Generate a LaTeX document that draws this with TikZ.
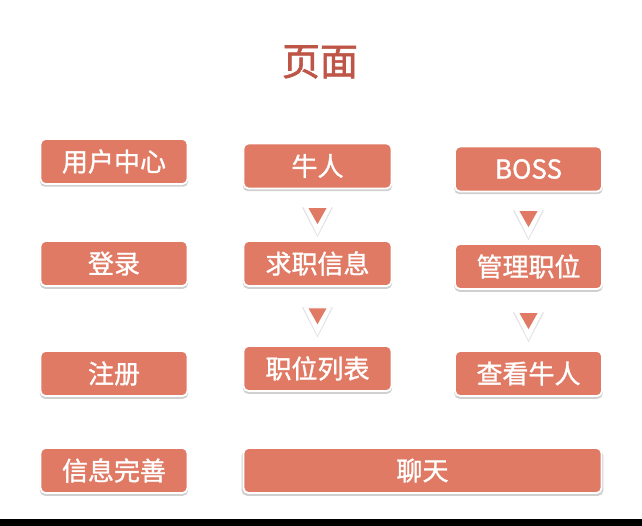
\documentclass[tikz,border=0pt]{standalone}
\usepackage{fontspec}
\newfontfamily\cjk{Noto Sans CJK SC}[FakeBold=1.2]
\newfontfamily\cjkt{Noto Sans CJK SC}[FakeBold=1.6]
\usetikzlibrary{shadows,calc}
\definecolor{boxred}{RGB}{224,122,100}
\definecolor{titlered}{RGB}{190,86,72}
\tikzset{
  pbox/.style={draw=white, line width=1.8pt, fill=boxred, rounded corners=5pt,
    minimum height=45pt, inner sep=0pt, text=white,
    font=\cjk\fontsize{26}{26}\selectfont,
    drop shadow={shadow xshift=0pt, shadow yshift=-2.5pt, opacity=0.3, fill=black!60, shadow scale=1.01}},
  trishadow/.style={fill=black!55, opacity=0.2},
  triwhite/.style={fill=white},
  trired/.style={fill=boxred},
}
\newcommand{\mytri}[1]{%
  \fill[trishadow] ($(#1)+(-15.5,0.2)$) -- ($(#1)+(15.5,0.2)$) -- ($(#1)+(0,30)$) -- cycle;
  \fill[triwhite] ($(#1)+(-14,0)$) -- ($(#1)+(14,0)$) -- ($(#1)+(0,28)$) -- cycle;
  \fill[trired] ($(#1)+(-9,1)$) -- ($(#1)+(9,1)$) -- ($(#1)+(0,17)$) -- cycle;
}
\begin{document}
\begin{tikzpicture}[x=1pt,y=-1pt]
\useasboundingbox (0,0) rectangle (642,526);
\fill[white] (0,0) rectangle (642,526);
\fill[black] (0,519) rectangle (642,526);
\node[font=\cjkt\fontsize{38}{38}\selectfont, text=titlered] (title) at (320,62) {页面};
% column 1
\node[pbox, minimum width=147pt] (yhzx) at (114,161.5) {用户中心};
\node[pbox, minimum width=147pt] (dl) at (114,263.5) {登录};
\node[pbox, minimum width=147pt] (zc) at (114,373.5) {注册};
\node[pbox, minimum width=147pt] (xxws) at (114,470.5) {信息完善};
% column 2
\node[pbox, minimum width=148pt] (nr) at (317.5,166) {牛人};
\node[pbox, minimum width=148pt] (qzxx) at (317.5,263.5) {求职信息};
\node[pbox, minimum width=148pt] (zwlb) at (317.5,368.5) {职位列表};
% column 3
\node[pbox, minimum width=147pt] (boss) at (528.5,169) {BOSS};
\node[pbox, minimum width=147pt] (glzw) at (528.5,266.5) {管理职位};
\node[pbox, minimum width=147pt] (ckrn) at (528.5,373.5) {查看牛人};
% bottom wide
\node[pbox, minimum width=358pt] (lt) at (422.5,470.5) {聊天};
% arrows (top-centre coordinates between linked boxes)
\path (nr.south) -- (qzxx.north) coordinate[pos=0.35] (t1);
\path (qzxx.south) -- (zwlb.north) coordinate[pos=0.35] (t2);
\path (boss.south) -- (glzw.north) coordinate[pos=0.35] (t3);
\path (glzw.south) -- (ckrn.north) coordinate[pos=0.37] (t4);
\mytri{t1}
\mytri{t2}
\mytri{t3}
\mytri{t4}
\end{tikzpicture}
\end{document}
